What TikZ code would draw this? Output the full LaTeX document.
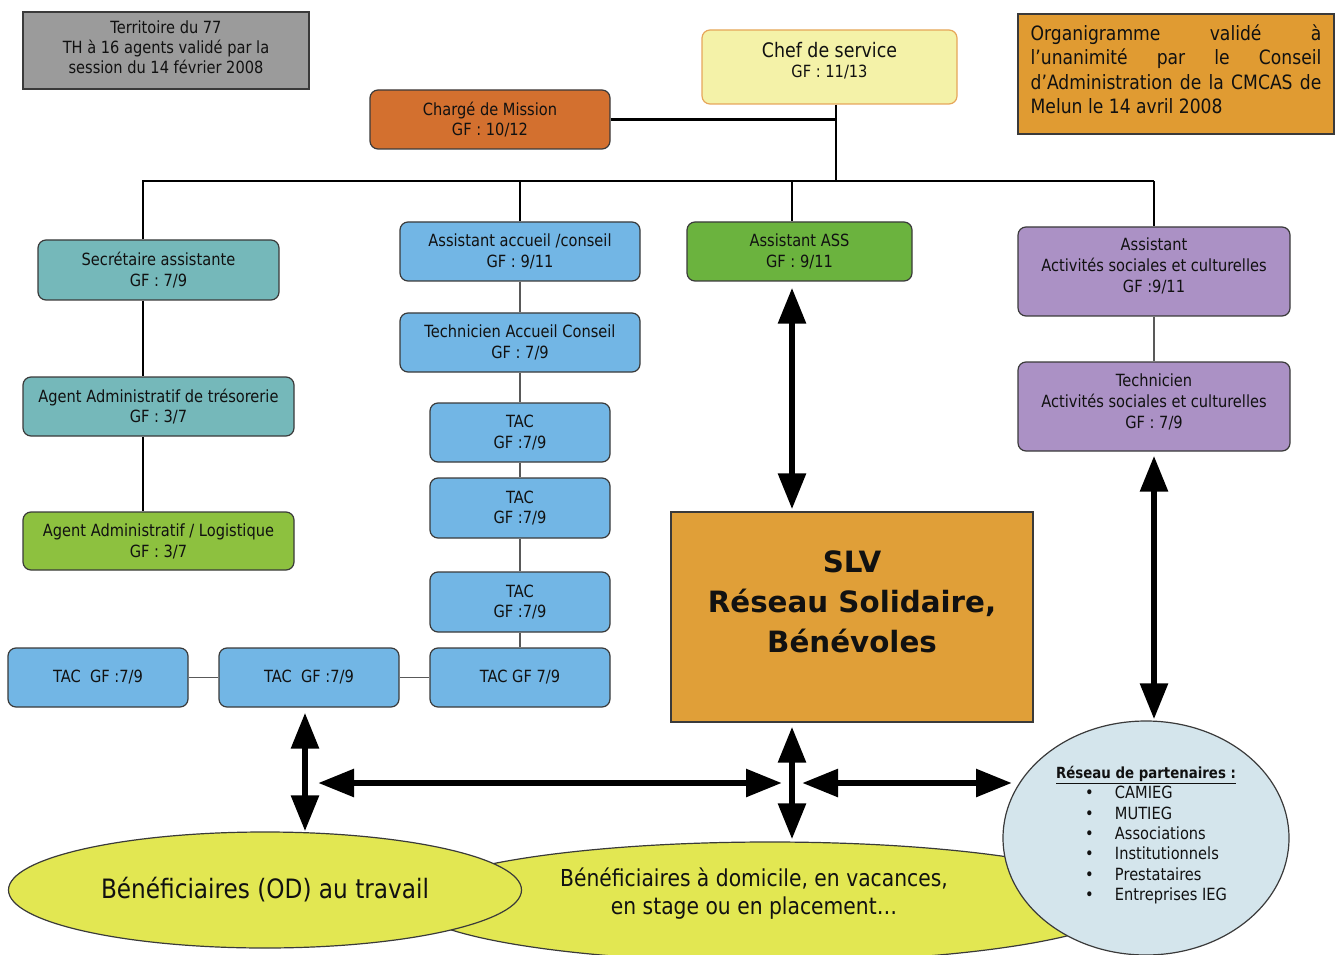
\documentclass[tikz,border=0pt]{standalone}
\usepackage{fontspec}
\setmainfont{DejaVu Sans}[FakeStretch=0.87]
\newfontfamily\slvfont{DejaVu Sans}
\usetikzlibrary{shapes.geometric,arrows.meta}
\definecolor{txt}{HTML}{111111}
\definecolor{edge}{HTML}{3A3A3A}
\definecolor{grayc}{HTML}{9B9B9B}
\definecolor{chefc}{HTML}{F4F2A8}
\definecolor{chefb}{HTML}{E6A65A}
\definecolor{orgc}{HTML}{E09B32}
\definecolor{chargec}{HTML}{D3702F}
\definecolor{tealc}{HTML}{75B8BA}
\definecolor{logic}{HTML}{8DC13F}
\definecolor{bluec}{HTML}{72B6E5}
\definecolor{assc}{HTML}{6BB33E}
\definecolor{purc}{HTML}{AB91C5}
\definecolor{slvc}{HTML}{E09F38}
\definecolor{yelc}{HTML}{E2E752}
\definecolor{partc}{HTML}{D4E5EC}
\newcommand\setfs[2]{\fontsize{#1}{#2}\selectfont}
\newcommand\liftlines[2]{\raisebox{#1}[\height][\depth]{\begin{tabular}{@{}c@{}}#2\end{tabular}}}
\def\pxu{0.75pt}
\tikzset{
  orgbox/.style={draw=edge, line width=0.9pt, rounded corners=6pt, align=center, inner sep=0pt, text=txt, font=\setfs{12.6}{15.6}},
  link/.style={draw=black, line width=2.2pt},
  thinlink/.style={draw=black!65, line width=0.8pt},
  dbl/.style={line width=5pt, {Triangle[width=20pt,length=27pt]}-{Triangle[width=20pt,length=27pt]}},
  blob/.style={ellipse, draw=edge, line width=0.9pt, inner sep=0pt, text=txt},
}
\begin{document}
\begin{tikzpicture}[x=0.75pt,y=-0.75pt]
\useasboundingbox (0,0) rectangle (1341,955);
\clip (0,0) rectangle (1341,955);

% notes
\node[draw=edge, line width=0.9pt, fill=grayc, align=center, inner sep=0pt, text=txt, font=\setfs{12.6}{15}, minimum width=286*\pxu, minimum height=77*\pxu] (terr) at (166,50.5) {\liftlines{0.8pt}{Territoire du 77\\TH à 16 agents validé par la\\session du 14 février 2008}};
\node[draw=edge, line width=0.9pt, fill=orgc, inner sep=0pt, text=txt, minimum width=316*\pxu, minimum height=120*\pxu, font=\setfs{14.8}{18.4}] (org) at (1176,74) {\raisebox{3.5pt}[\height][\depth]{\parbox{218pt}{Organigramme validé à\linebreak l’unanimité par le Conseil\linebreak d’Administration de la CMCAS de\linebreak Melun le 14 avril 2008}}};

% top
\node[orgbox, draw=chefb, fill=chefc, minimum width=255*\pxu, minimum height=74*\pxu] (chef) at (829.5,67) {\raisebox{3pt}[\height][\depth]{\begin{tabular}{@{}c@{}}\setfs{15}{19}Chef de service\\\setfs{12.6}{15.6}GF : 11/13\end{tabular}}};
\node[orgbox, fill=chargec, minimum width=240*\pxu, minimum height=59*\pxu] (charge) at (490,119.5) {Chargé de Mission\\GF : 10/12};

% left column
\node[orgbox, fill=tealc, minimum width=241*\pxu, minimum height=60*\pxu] (sec) at (158.5,270) {Secrétaire assistante\\GF : 7/9};
\node[orgbox, fill=tealc, minimum width=271*\pxu, minimum height=59*\pxu] (treso) at (158.5,406.5) {Agent Administratif de trésorerie\\GF : 3/7};
\node[orgbox, fill=logic, minimum width=271*\pxu, minimum height=58*\pxu] (logi) at (158.5,541) {Agent Administratif / Logistique\\GF : 3/7};

% accueil column
\node[orgbox, fill=bluec, minimum width=240*\pxu, minimum height=59*\pxu] (acc) at (520,251.5) {Assistant accueil /conseil\\GF : 9/11};
\node[orgbox, fill=bluec, minimum width=240*\pxu, minimum height=59*\pxu] (tech) at (520,342.5) {Technicien Accueil Conseil\\GF : 7/9};
\node[orgbox, fill=bluec, minimum width=180*\pxu, minimum height=59*\pxu] (tac1) at (520,432.5) {TAC\\GF :7/9};
\node[orgbox, fill=bluec, minimum width=180*\pxu, minimum height=60*\pxu] (tac2) at (520,508) {TAC\\GF :7/9};
\node[orgbox, fill=bluec, minimum width=180*\pxu, minimum height=60*\pxu] (tac3) at (520,602) {TAC\\GF :7/9};
\node[orgbox, fill=bluec, minimum width=180*\pxu, minimum height=59*\pxu] (tac4) at (520,677.5) {TAC GF 7/9};
\node[orgbox, fill=bluec, minimum width=180*\pxu, minimum height=59*\pxu] (tacm) at (309,677.5) {TAC\ \ GF :7/9};
\node[orgbox, fill=bluec, minimum width=180*\pxu, minimum height=59*\pxu] (tacl) at (98,677.5) {TAC\ \ GF :7/9};

% right columns
\node[orgbox, fill=assc, minimum width=225*\pxu, minimum height=59*\pxu] (ass) at (799.5,251.5) {Assistant ASS\\GF : 9/11};
\node[orgbox, fill=purc, minimum width=272*\pxu, minimum height=89*\pxu] (asc) at (1154,271.5) {\liftlines{3.2pt}{Assistant\\Activités sociales et culturelles\\GF :9/11}};
\node[orgbox, fill=purc, minimum width=272*\pxu, minimum height=89*\pxu] (tasc) at (1154,406.5) {\liftlines{2.4pt}{Technicien\\Activités sociales et culturelles\\GF : 7/9}};

\node[draw=edge, line width=0.9pt, fill=slvc, minimum width=362*\pxu, minimum height=210*\pxu, inner sep=0pt, text=txt, font=\slvfont\bfseries\setfs{22}{30}] (slv) at (852,617) {\liftlines{9.75pt}{SLV\\Réseau Solidaire,\\Bénévoles}};

% tree links
\coordinate (chefdrop) at (836,181);
\coordinate (busl) at (143,181);
\coordinate (busr) at (1154,181);
\coordinate (assx) at (792,181);
\draw[link] (chef.south -| chefdrop) -- (chefdrop);
\draw[link] (charge.east) -- (charge.east -| chefdrop);
\draw[link] (sec.north -| busl) -- (busl) -- (busr);
\draw[link, line width=1.6pt] (acc.north |- busl) -- (acc.north);
\draw[link, line width=1.1pt] (assx) -- (ass.north -| assx);
\draw[link, line width=1.1pt] (busr) -- (asc.north);
\draw[link, line width=1.8pt] (sec.south -| busl) -- (treso.north -| busl);
\draw[link, line width=1.8pt] (treso.south -| busl) -- (logi.north -| busl);
\draw[thinlink] (acc.south) -- (tech.north);
\draw[thinlink] (tech.south) -- (tac1.north);
\draw[thinlink] (tac1.south) -- (tac2.north);
\draw[thinlink] (tac2.south) -- (tac3.north);
\draw[thinlink] (tac3.south) -- (tac4.north);
\draw[thinlink] (tacl.east) -- (tacm.west);
\draw[thinlink] (tacm.east) -- (tac4.west);
\draw[thinlink] (asc.south) -- (tasc.north);

% beneficiaries and partners
\node[blob, fill=yelc, minimum width=720*\pxu, minimum height=120*\pxu, font=\setfs{17.5}{21}] (benr) at (770,902) {\liftlines{5.25pt}{Bénéficiaires à domicile, en vacances,\\en stage ou en placement…}\hspace*{24pt}};
\node[blob, fill=yelc, minimum width=513*\pxu, minimum height=116*\pxu, font=\setfs{20}{24}] (benl) at (265,890) {Bénéficiaires (OD) au travail};
\node[blob, fill=partc, minimum width=286*\pxu, minimum height=234*\pxu, font=\setfs{12.6}{15.3}] (part) at (1146,838) {\raisebox{2pt}[\height][\depth]{\begin{tabular}{@{}c@{}}\underline{\textbf{\setfs{11.5}{14}Réseau de partenaires :}}\\\hspace*{15pt}\begin{tabular}[t]{@{}l@{\hspace{16pt}}l@{}}\textbullet & CAMIEG\\\textbullet & MUTIEG\\\textbullet & Associations\\\textbullet & Institutionnels\\\textbullet & Prestataires\\\textbullet & Entreprises IEG\end{tabular}\end{tabular}}};

% double arrows
\coordinate (ax) at (792,0);
\coordinate (lx) at (305,0);
\coordinate (h1l) at (318,783);
\coordinate (h1r) at (782,783);
\coordinate (h2l) at (802,783);
\coordinate (h2r) at (1012,783);
\draw[dbl] ([yshift=-4.5pt]ass.south -| ax) -- ([yshift=1.5pt]slv.north -| ax);
\draw[dbl] ([yshift=-3pt]tasc.south) -- ([yshift=0.75pt]part.north -| tasc.south);
\draw[dbl] ([yshift=-3.75pt]tacm.south -| lx) -- (benl.north -| lx);
\draw[dbl] ([yshift=-3pt]slv.south -| ax) -- ([yshift=1.5pt]benr.north -| ax);
\draw[dbl] (h1l) -- (h1r);
\draw[dbl] (h2l) -- (h2r);
\end{tikzpicture}
\end{document}
